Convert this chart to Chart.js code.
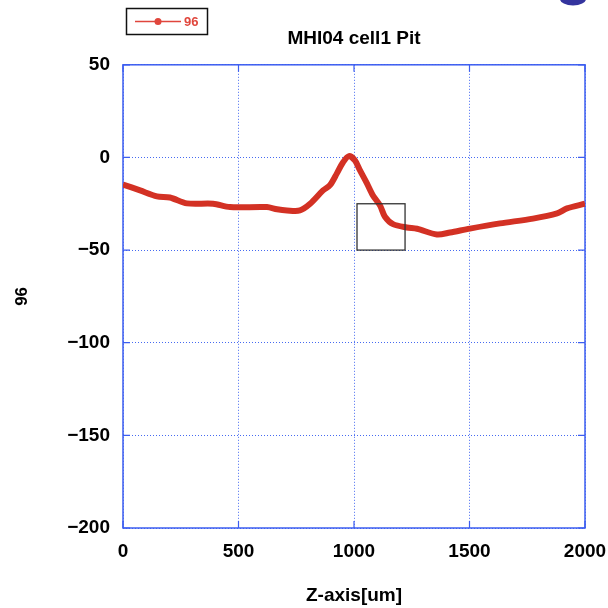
<!DOCTYPE html>
<html>
<head>
<meta charset="utf-8">
<script src="https://cdn.jsdelivr.net/npm/chart.js@4"></script>
<style>
  html, body { margin: 0; padding: 0; background: #fff; }
  #wrap { width: 608px; height: 608px; }
</style>
</head>
<body>
<div id="wrap"><canvas id="chart" width="608" height="608"></canvas></div>
<script>
// profile
const zPos = [0, 74, 147, 203, 277, 390, 463, 623, 667, 710, 766, 810, 866, 896, 926, 952, 978, 1004,
  1026, 1056, 1082, 1113, 1134, 1169, 1229, 1273, 1359, 1416, 1502, 1632, 1775, 1879, 1922, 2000];
const depth = [-14.6, -17.8, -21, -21.6, -24.8, -25, -26.8, -26.8, -28, -28.6, -28.6, -25, -17.8, -15, -8.6, -2.7, 0.7, -1.6,
  -7, -14, -20.5, -26, -32, -36, -37.8, -38.5, -41.6, -40.5, -38.4, -35.6, -33, -30.2, -27.5, -25];

const xTicks = [0, 500, 1000, 1500, 2000];
const yTicks = [50, 0, -50, -100, -150, -200];
const yTickLabels = ["50", "0", "\u221250", "\u2212100", "\u2212150", "\u2212200"];

// selection box drawn on the plot (x from/to, y from/to)
const boxX = [1013, 1221];
const boxY = [-25, -50];

const seriesName = "96";
const lineColor = "#d33124";
const axisBlue = "#3c5ef0";
const gridBlue = "rgba(50, 90, 240, 0.9)";
const fontFamily = "'Liberation Sans', Arial, sans-serif";

const points = zPos.map((z, i) => ({x: z, y: depth[i]}));

const frame = {
  id: "frame",
  beforeDatasetsDraw(chart) {
    const {ctx, chartArea: a, scales} = chart;
    ctx.save();
    ctx.strokeStyle = axisBlue;
    ctx.lineWidth = 1.5;
    ctx.strokeRect(a.left, a.top, a.right - a.left, a.bottom - a.top);
    // inward tick marks
    ctx.lineWidth = 1.2;
    ctx.beginPath();
    yTicks.forEach((v) => {
      const y = scales.y.getPixelForValue(v);
      ctx.moveTo(a.left, y); ctx.lineTo(a.left + 7, y);
      ctx.moveTo(a.right, y); ctx.lineTo(a.right - 7, y);
    });
    xTicks.forEach((v) => {
      const x = scales.x.getPixelForValue(v);
      ctx.moveTo(x, a.bottom); ctx.lineTo(x, a.bottom - 7);
      ctx.moveTo(x, a.top); ctx.lineTo(x, a.top + 7);
    });
    ctx.stroke();
    ctx.restore();
  },
  afterDatasetsDraw(chart) {
    const {ctx, scales} = chart;
    const x1 = scales.x.getPixelForValue(boxX[0]);
    const x2 = scales.x.getPixelForValue(boxX[1]);
    const y1 = scales.y.getPixelForValue(boxY[0]);
    const y2 = scales.y.getPixelForValue(boxY[1]);
    ctx.save();
    ctx.strokeStyle = "#333";
    ctx.lineWidth = 1.3;
    ctx.strokeRect(x1, y1, x2 - x1, y2 - y1);
    ctx.restore();
  },
  afterDraw(chart) {
    const ctx = chart.ctx;
    ctx.save();
    // legend box
    ctx.strokeStyle = "#111";
    ctx.lineWidth = 1.5;
    ctx.strokeRect(126.5, 8.5, 81, 26);
    ctx.strokeStyle = "#e0463c";
    ctx.lineWidth = 1.5;
    ctx.beginPath();
    ctx.moveTo(135, 21.5); ctx.lineTo(181, 21.5);
    ctx.stroke();
    ctx.fillStyle = "#e0463c";
    ctx.beginPath();
    ctx.arc(158, 21.5, 3.5, 0, Math.PI * 2);
    ctx.fill();
    ctx.font = "bold 13px " + fontFamily;
    ctx.textBaseline = "middle";
    ctx.fillText(seriesName, 184, 22);
    // blue mark cut off at the top edge
    ctx.fillStyle = "#34349e";
    ctx.beginPath();
    ctx.ellipse(573, -1, 13, 6.5, 0, 0, Math.PI * 2);
    ctx.fill();
    ctx.restore();
  },
};

new Chart(document.getElementById("chart").getContext("2d"), {
  type: "line",
  data: {
    datasets: [
      {
        label: seriesName,
        data: points,
        borderColor: lineColor,
        backgroundColor: lineColor,
        borderWidth: 6,
        pointRadius: 0,
        pointHoverRadius: 0,
        tension: 0.3,
        fill: false,
      },
    ],
  },
  options: {
    responsive: false,
    animation: false,
    layout: {padding: {top: 20, right: 23, bottom: 0, left: 0}},
    plugins: {
      legend: {display: false},
      tooltip: {enabled: false},
      title: {
        display: true,
        fullSize: false,
        text: "MHI04 cell1 Pit",
        color: "#000",
        font: {family: fontFamily, size: 19, weight: "bold"},
        padding: {top: 7, bottom: 15},
      },
    },
    scales: {
      x: {
        type: "linear",
        min: 0,
        max: 2000,
        afterFit: (s) => { s.height = 80; s.paddingLeft = 0; s.paddingRight = 0; },
        afterBuildTicks: (s) => { s.ticks = xTicks.map((v) => ({value: v})); },
        ticks: {
          color: "#000",
          padding: 12,
          font: {family: fontFamily, size: 19, weight: "bold"},
          callback: (v) => String(v),
        },
        grid: {color: gridBlue, lineWidth: 1, drawTicks: false},
        border: {display: false, dash: [1, 2]},
        title: {
          display: true,
          text: "Z-axis[um]",
          color: "#000",
          font: {family: fontFamily, size: 19, weight: "bold"},
          padding: {top: 0, bottom: 1},
        },
      },
      y: {
        type: "linear",
        min: -200,
        max: 50,
        afterFit: (s) => { s.width = 123; s.paddingTop = 0; s.paddingBottom = 0; },
        afterBuildTicks: (s) => { s.ticks = yTicks.map((v) => ({value: v})); },
        ticks: {
          color: "#000",
          padding: 13,
          font: {family: fontFamily, size: 19, weight: "bold"},
          callback: (v) => yTickLabels[yTicks.indexOf(v)],
        },
        grid: {color: gridBlue, lineWidth: 1, drawTicks: false},
        border: {display: false, dash: [1, 2]},
        title: {
          display: true,
          text: seriesName,
          color: "#000",
          font: {family: fontFamily, size: 17, weight: "bold"},
          padding: {top: 12, bottom: 0},
        },
      },
    },
  },
  plugins: [frame],
});
</script>
</body>
</html>
